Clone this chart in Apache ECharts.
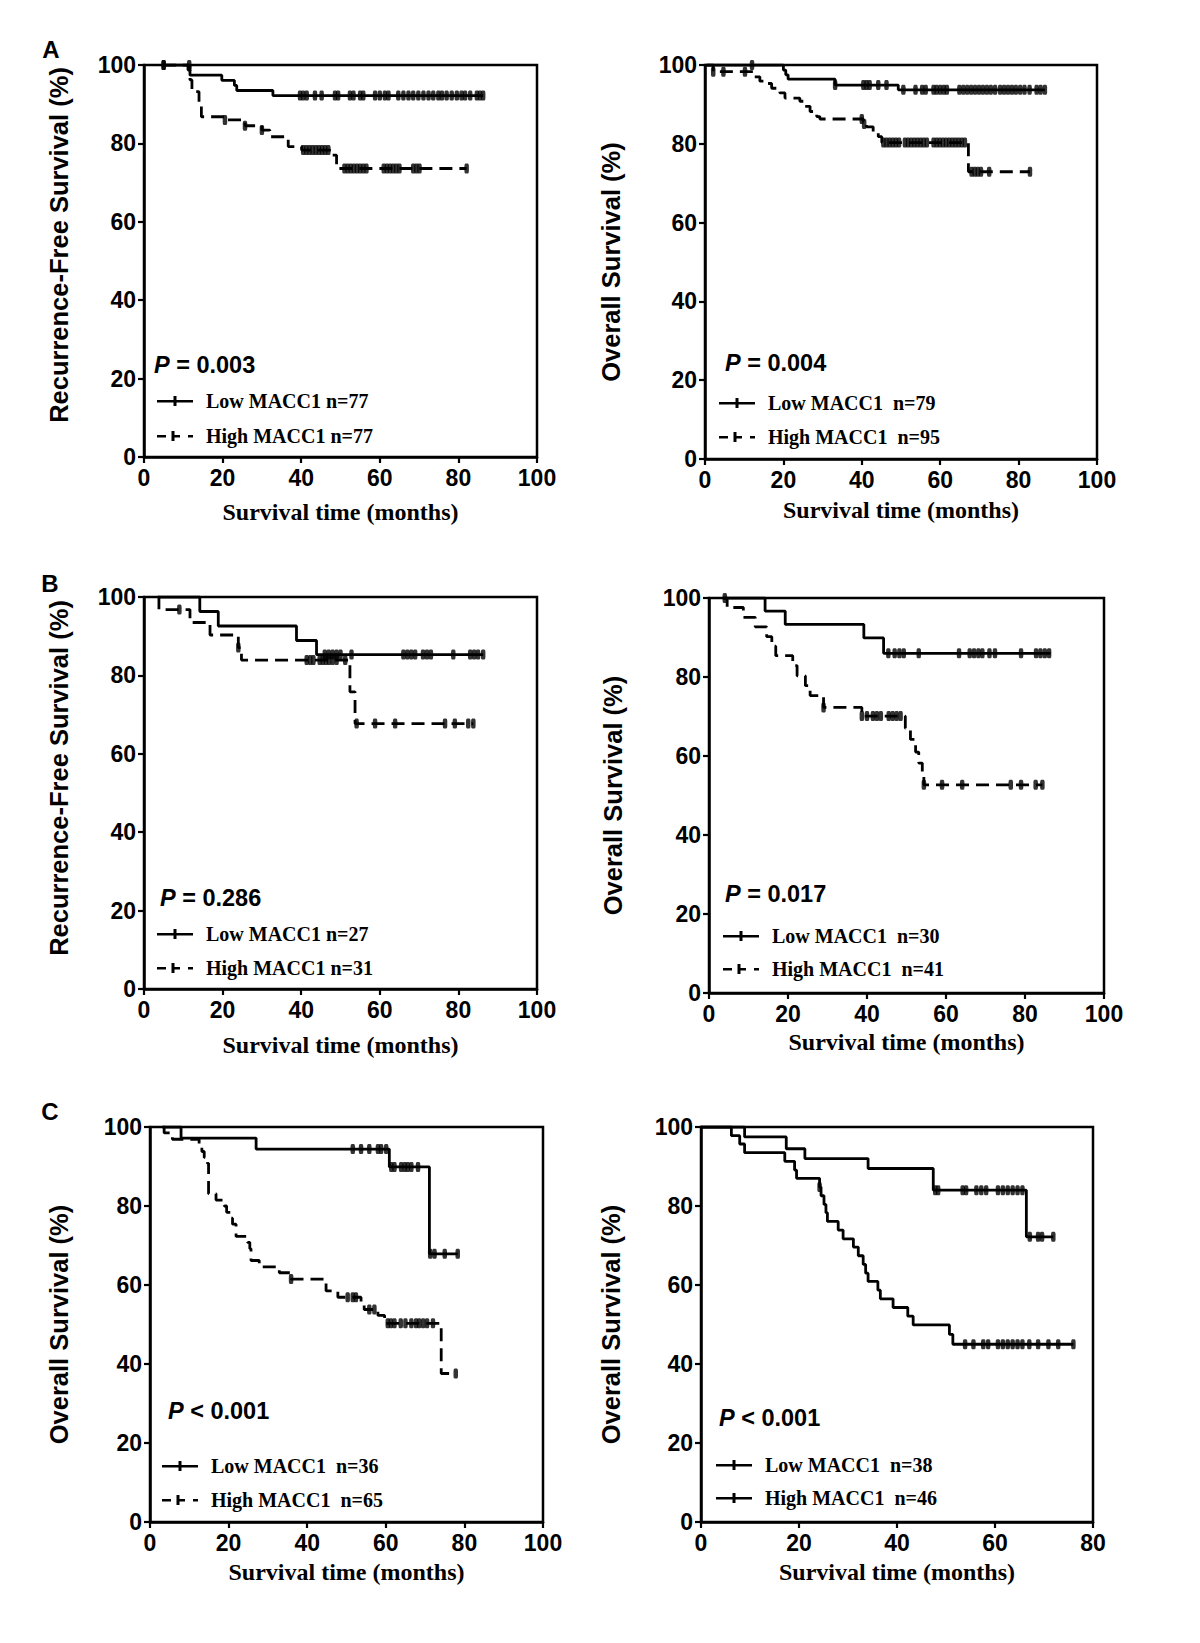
<!DOCTYPE html>
<html><head><meta charset="utf-8">
<script src="https://cdn.jsdelivr.net/npm/echarts@6/dist/echarts.min.js"></script>
<style>html,body{margin:0;padding:0;background:#fff}#c{width:1200px;height:1643px}</style>
</head><body><div id="c"></div><script>
// ---------------- DATA ----------------
// Panel A left (Recurrence-free survival)
const aLeftLowT = [4.8, 11.7, 19.8, 23.0, 23.6, 32.8, 86.3];
const aLeftLowS = [100, 97.4, 96.1, 94.8, 93.5, 92.2, 92.2];
const aLeftLowCens = [5, 11.5, 39.7, 40.5, 41.4, 43.5, 45.2, 48.6, 49.4, 52.4, 53.3, 55, 55.8, 58.8, 60, 61.3, 62.2, 64.7, 66, 67.3, 68.5, 69.8, 71.1, 72.4, 73.6, 74.9, 75.8, 77, 78.3, 79.6, 80.8, 81.7, 83, 84.7, 85.5, 86.3];
const aLeftHighT = [4.8, 11.2, 11.7, 12.2, 14.0, 14.6, 20.6, 25.7, 30.0, 32.0, 36.7, 40.1, 47.7, 49.0, 82.1];
const aLeftHighS = [100, 98.7, 96.2, 93.2, 89.8, 86.8, 86.0, 84.5, 83.4, 81.7, 79.2, 78.3, 77.0, 73.6, 73.6];
const aLeftHighCens = [5, 20.6, 25.7, 30, 40.5, 41.3, 42.1, 42.9, 43.7, 44.5, 45.3, 46.1, 46.9, 51, 51.8, 52.6, 53.4, 54.2, 55, 55.8, 56.6, 61, 61.8, 62.6, 63.4, 64.2, 65, 68.5, 69.3, 70.1, 82.1];

// Panel A right (Overall survival)
const aRightLowT = [0.4, 20.0, 20.6, 21.2, 33.2, 49.3, 86.7];
const aRightLowS = [100, 98.7, 97.5, 96.4, 94.9, 93.7, 93.7];
const aRightLowCens = [12, 33.2, 40.4, 41.2, 42, 44.2, 46.3, 50.6, 53.7, 55.4, 56.3, 58.3, 59.1, 60, 60.9, 61.7, 64.9, 65.9, 66.9, 67.9, 68.9, 69.9, 70.9, 71.9, 72.9, 74, 75.3, 76.3, 77.3, 78.3, 79.3, 80.4, 81.5, 82.8, 84.6, 85.6, 86.7];
const aRightHighT = [0.4, 2.1, 12.3, 14.0, 15.7, 17.0, 19.1, 20.4, 24.2, 25.5, 26.8, 28.5, 29.3, 40.4, 41.2, 42.9, 44.2, 45.1, 67.2, 82.9];
const aRightHighS = [100, 98.3, 97.0, 95.9, 95.3, 94.1, 92.9, 91.6, 90.8, 89.5, 88.2, 86.9, 86.3, 85.0, 84.3, 83.1, 81.8, 80.3, 72.9, 72.9];
const aRightHighCens = [2.1, 4.7, 10.2, 40, 40.6, 45.5, 46.3, 47.1, 47.9, 48.7, 49.5, 51, 51.8, 52.6, 53.4, 54.2, 55, 55.8, 56.6, 58.3, 59.1, 59.9, 60.7, 61.5, 62.3, 63.1, 63.9, 64.7, 65.5, 66.3, 68, 68.8, 69.6, 70.4, 72.5, 82.9];

// Panel B left
const bLeftLowT = [3.6, 14.2, 18.9, 38.8, 43.9, 86.3];
const bLeftLowS = [100, 96.3, 92.6, 88.9, 85.3, 85.3];
const bLeftLowCens = [46, 47, 48, 49, 50, 52.8, 66, 67, 68, 69, 71, 72, 73, 78.7, 83, 84, 85, 86.3];
const bLeftHighT = [3.6, 3.8, 11.7, 16.8, 24.0, 24.8, 52.4, 53.7, 83.8];
const bLeftHighS = [100, 96.8, 93.5, 90.3, 87.1, 83.9, 75.8, 67.7, 67.7];
const bLeftHighCens = [9, 24, 41.4, 42.3, 43.1, 44.7, 45.5, 46.3, 47.1, 48, 49, 51.2, 54.1, 58.8, 63.9, 76.6, 79.1, 82.5, 83.8];

// Panel B right
const bRightLowT = [3.5, 14.2, 19.3, 39.2, 44.2, 86.5];
const bRightLowS = [100, 96.7, 93.3, 89.9, 86.0, 86.0];
const bRightLowCens = [45.4, 47, 48.2, 49.3, 53.1, 63.3, 66, 67.1, 68.2, 69.2, 71, 72.4, 79, 82.8, 83.9, 85, 86.1];
const bRightHighT = [3.5, 4.6, 8.7, 11.7, 14.6, 15.9, 16.9, 21.2, 22.3, 24.4, 25.6, 29.0, 38.7, 49.7, 51.0, 52.3, 53.1, 54.0, 54.4, 84.4];
const bRightHighS = [100, 97.6, 95.1, 92.7, 90.2, 87.8, 85.4, 82.9, 80.3, 77.8, 75.3, 72.3, 70.1, 67.0, 64.2, 61.0, 58.2, 55.5, 52.7, 52.7];
const bRightHighCens = [4.0, 29, 38.7, 40, 41.5, 42.5, 43.5, 45.5, 46.5, 47.5, 48.5, 54.4, 59, 64.1, 76.4, 79, 82.7, 84.4];

// Panel C left
const cLeftLowT = [3.2, 7.9, 27.0, 60.9, 71.1, 78.3];
const cLeftLowS = [100, 97.2, 94.4, 89.9, 67.9, 67.9];
const cLeftLowCens = [51.6, 53.7, 55.8, 58, 58.8, 60.1, 61.4, 62.2, 63.9, 64.8, 65.6, 66.5, 68.2, 71.3, 72.4, 75, 78.3];
const cLeftHighT = [3.2, 3.6, 5.7, 12.5, 13.2, 13.8, 14.6, 14.9, 16.8, 18.9, 19.5, 20.6, 21.0, 21.9, 24.8, 25.4, 25.7, 27.8, 32.9, 35.9, 44.8, 47.8, 53.7, 54.5, 58.0, 59.7, 74.1, 77.8];
const cLeftHighS = [100, 98.5, 96.9, 95.4, 93.8, 92.3, 90.8, 83.1, 81.5, 80.0, 78.4, 76.9, 75.4, 72.3, 70.8, 69.2, 66.2, 64.6, 63.1, 61.5, 58.5, 56.9, 55.4, 53.8, 52.3, 50.3, 37.6, 37.6];
const cLeftHighCens = [35.9, 50.3, 51.6, 52.4, 55.8, 57.1, 60.5, 61.3, 62.2, 63.8, 65, 66.5, 67.7, 68.5, 69.5, 70.5, 72, 77.8];

// Panel C right
const cRightLowT = [0, 8.9, 17.4, 21.2, 34.1, 47.4, 66.4, 71.9];
const cRightLowS = [100, 97.5, 94.5, 92.0, 89.5, 84.0, 72.2, 72.2];
const cRightLowCens = [47.8, 48.4, 53.4, 54.1, 56.2, 57.2, 58.2, 60.6, 61.6, 62.6, 63.6, 64.6, 65.6, 67.1, 68.8, 69.6, 71.9];
const cRightHighT = [0, 6.2, 7.9, 8.9, 17.1, 19.1, 19.5, 24.2, 24.5, 25.1, 25.5, 25.8, 28.0, 29.0, 31.1, 32.1, 33.1, 33.6, 34.1, 36.1, 36.6, 39.2, 42.2, 43.3, 50.7, 51.4, 76.0];
const cRightHighS = [100, 97.8, 95.7, 93.5, 91.3, 89.1, 87.0, 84.8, 82.6, 80.4, 78.3, 76.1, 73.9, 71.7, 69.6, 67.4, 65.2, 63.0, 60.9, 58.7, 56.5, 54.3, 52.1, 49.9, 47.5, 45.0, 45.0];
const cRightHighCens = [24.2, 53.9, 55.6, 57.6, 58.6, 60.6, 61.6, 62.6, 63.6, 64.6, 65.6, 67, 68.8, 70.9, 72.9, 76.0];

// Texts
const legendNames = [
  ['Low MACC1 n=77', 'High MACC1 n=77'],
  ['Low MACC1  n=79', 'High MACC1  n=95'],
  ['Low MACC1 n=27', 'High MACC1 n=31'],
  ['Low MACC1  n=30', 'High MACC1  n=41'],
  ['Low MACC1  n=36', 'High MACC1  n=65'],
  ['Low MACC1  n=38', 'High MACC1  n=46']
];
const pTexts = ['= 0.003', '= 0.004', '= 0.286', '= 0.017', '< 0.001', '< 0.001'];
const yTitles = ['Recurrence-Free Survival (%)', 'Overall Survival (%)', 'Recurrence-Free Survival (%)', 'Overall Survival (%)', 'Overall Survival (%)', 'Overall Survival (%)'];
const xTitle = 'Survival time (months)';
const xMaxes = [100, 100, 100, 100, 100, 80];
const panelLetters = ['A', 'B', 'C'];

// ---------------- LAYOUT ----------------
const layout = [
  {grid:{left:144,top:65,width:393,height:392}, yGap:72, yShift:32, xGap:43, p:[154,365], lg:[157,390,13]},
  {grid:{left:705,top:65,width:392,height:394}, yGap:81, yShift:0, xGap:39, p:[725,363], lg:[719,392,12]},
  {grid:{left:144,top:597,width:393,height:392}, yGap:72, yShift:30, xGap:44, p:[160,898], lg:[157,923,12]},
  {grid:{left:709,top:598,width:395,height:395}, yGap:83, yShift:0, xGap:37, p:[725,894], lg:[723,925,11]},
  {grid:{left:150,top:1127,width:393,height:395}, yGap:78, yShift:0, xGap:38, p:[168,1411], lg:[162,1455,12]},
  {grid:{left:701,top:1127,width:392,height:395}, yGap:77, yShift:0, xGap:38, p:[719,1418], lg:[716,1454,11]}
];
const letterPos = [[51,49],[50,583],[50,1111]];

const curves = [
  [[aLeftLowT,aLeftLowS,aLeftLowCens],[aLeftHighT,aLeftHighS,aLeftHighCens]],
  [[aRightLowT,aRightLowS,aRightLowCens],[aRightHighT,aRightHighS,aRightHighCens]],
  [[bLeftLowT,bLeftLowS,bLeftLowCens],[bLeftHighT,bLeftHighS,bLeftHighCens]],
  [[bRightLowT,bRightLowS,bRightLowCens],[bRightHighT,bRightHighS,bRightHighCens]],
  [[cLeftLowT,cLeftLowS,cLeftLowCens],[cLeftHighT,cLeftHighS,cLeftHighCens]],
  [[cRightLowT,cRightLowS,cRightLowCens],[cRightHighT,cRightHighS,cRightHighCens]]
];
const highDashed = [true,true,true,true,true,false];

const SANS = '"Liberation Sans", Arial, sans-serif';
const SERIF = '"Liberation Serif", "Times New Roman", serif';
const ICON_SOLID = 'path://M0,5H36V7.5H0Z M16.5,1H19.5V11H16.5Z';
const ICON_DASH = 'path://M0,5H9V7.5H0Z M14.5,1H17.5V11H14.5Z M17.5,5H23V7.5H17.5Z M31,5H36V7.5H31Z';

function survAt(T,S,t){ let v=S[0]; for(let i=0;i<T.length;i++){ if(T[i]<=t) v=S[i]; } return v; }

const grids=[], xAxes=[], yAxes=[], series=[], legends=[], graphics=[];
layout.forEach((L,i)=>{
  grids.push(Object.assign({show:true, borderColor:'#000', borderWidth:2.5, backgroundColor:'transparent'}, L.grid));
  xAxes.push({gridIndex:i, type:'value', min:0, max:xMaxes[i], interval:20,
    name:xTitle, nameLocation:'middle', nameGap:L.xGap,
    nameTextStyle:{fontFamily:SERIF, fontWeight:'bold', fontSize:24, color:'#000'},
    axisLine:{show:true, onZero:false, lineStyle:{color:'#000', width:2.5}},
    axisTick:{show:true, length:6, lineStyle:{color:'#000', width:2.2}},
    axisLabel:{margin:9, fontFamily:SANS, fontWeight:'bold', fontSize:23, color:'#000'},
    splitLine:{show:false}});
  yAxes.push({gridIndex:i, type:'value', min:0, max:100, interval:20,
    name:yTitles[i], nameLocation:'middle', nameGap:L.yGap,
    nameTextStyle:{fontFamily:SANS, fontWeight:'bold', fontSize:25.5, color:'#000', padding:[0,0,0,L.yShift]},
    axisLine:{show:true, onZero:false, lineStyle:{color:'#000', width:2.5}},
    axisTick:{show:true, length:6, lineStyle:{color:'#000', width:2.2}},
    axisLabel:{margin:8, fontFamily:SANS, fontWeight:'bold', fontSize:23, color:'#000'},
    splitLine:{show:false}});
  const names = legendNames[i];
  curves[i].forEach((c,k)=>{
    const [T,S,C] = c;
    const dashed = (k===1 && highDashed[i]);
    series.push({type:'line', name:names[k], xAxisIndex:i, yAxisIndex:i, step:'end', showSymbol:false,
      symbol:'none', color:'#000', lineStyle:{color:'#000', width:2.8, type: dashed ? [13,7] : 'solid'},
      data:T.map((t,j)=>[t,S[j]]), z:3, animation:false});
    series.push({type:'scatter', name:names[k]+' censored', xAxisIndex:i, yAxisIndex:i,
      symbol:'roundRect', symbolSize:[4.5,10], itemStyle:{color:'#000'},
      data:C.map(t=>[t, survAt(T,S,t)]), z:4, animation:false, silent:true});
  });
  legends.push({orient:'vertical', left:L.lg[0], top:L.lg[1], itemGap:L.lg[2], itemWidth:36, itemHeight:10,
    selectedMode:false, padding:0,
    textStyle:{fontFamily:SERIF, fontWeight:'bold', fontSize:20, color:'#000', lineHeight:22, padding:[0,0,0,8]},
    data:[{name:names[0], icon:ICON_SOLID}, {name:names[1], icon: highDashed[i] ? ICON_DASH : ICON_SOLID}]});
  graphics.push({type:'text', x:L.p[0], y:L.p[1], silent:true,
    style:{text:'{i|P} '+pTexts[i], fill:'#000', font:'bold 23.5px '+SANS, verticalAlign:'middle', align:'left',
      rich:{i:{fontStyle:'italic', fontWeight:'bold', fontSize:23.5, fontFamily:SANS, fill:'#000'}}}});
});
panelLetters.forEach((t,i)=>{
  graphics.push({type:'text', x:letterPos[i][0], y:letterPos[i][1], silent:true,
    style:{text:t, fill:'#000', font:'bold 24px '+SANS, align:'center', verticalAlign:'middle'}});
});

const chart = echarts.init(document.getElementById('c'), null, {renderer:'svg'});
chart.setOption({
  animation:false, backgroundColor:'#fff',
  grid:grids, xAxis:xAxes, yAxis:yAxes, series:series, legend:legends, graphic:graphics
});
</script></body></html>
